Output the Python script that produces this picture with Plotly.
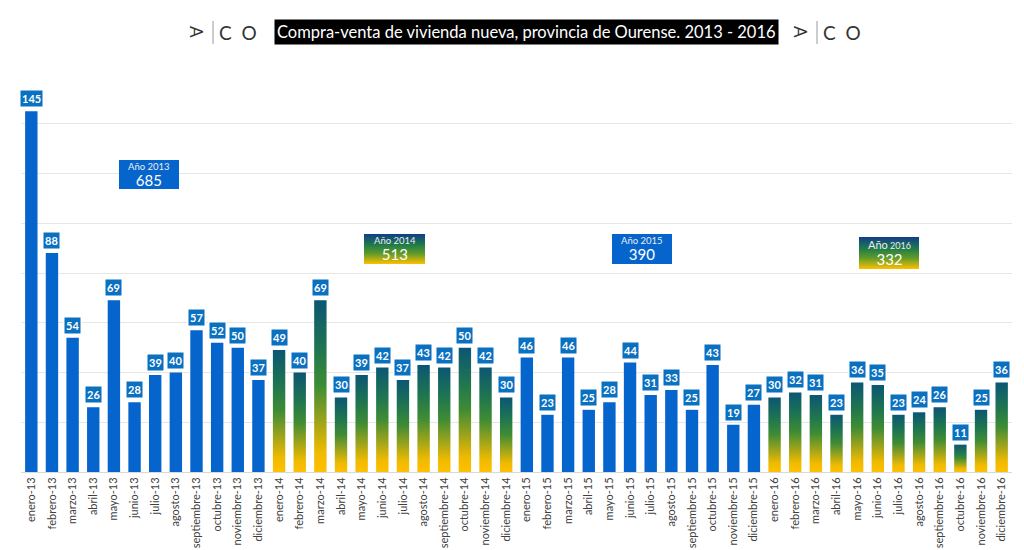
import plotly.graph_objects as go

# ---------------- data ----------------
months = ["enero", "febrero", "marzo", "abril", "mayo", "junio", "julio",
          "agosto", "septiembre", "octubre", "noviembre", "diciembre"]
year_suffix = ["13", "14", "15", "16"]
tick_labels = [f"{m}-{y}" for y in year_suffix for m in months]

v2013 = [145, 88, 54, 26, 69, 28, 39, 40, 57, 52, 50, 37]
v2014 = [49, 40, 69, 30, 39, 42, 37, 43, 42, 50, 42, 30]
v2015 = [46, 23, 46, 25, 28, 44, 31, 33, 25, 43, 19, 27]
v2016 = [30, 32, 31, 23, 36, 35, 23, 24, 26, 11, 25, 36]

year_names = ["2013", "2014", "2015", "2016"]
year_totals = [685, 513, 390, 332]

title_text = "Compra-venta de vivienda nueva, provincia de Ourense. 2013 - 2016"

# ---------------- styling ----------------
W, H = 1024, 550
ML, MR, MT, MB = 21, 12, 74, 78
PW, PH = W - ML - MR, H - MT - MB
BLUE = "#0565CC"
LABEL_BLUE = "#0A70C0"
BAR_W = 0.6
GRAD = [[0.0, "#FFC000"], [0.12, "#EEBA00"], [0.3, "#9AA31C"],
        [0.5, "#3F8C34"], [0.72, "#1E7550"], [1.0, "#0B5674"]]
BOX_GRAD = [[0.0, "#FFC000"], [0.35, "#5E9A2A"], [0.65, "#1D7A4A"], [1.0, "#123C8C"]]


def px_x(p):
    return (p - ML) / PW


def px_y(p):
    return (H - MB - p) / PH


fig = go.Figure()

series = [v2013, v2014, v2015, v2016]
all_vals = [v for s in series for v in s]
xs = list(range(len(all_vals)))

# solid blue bars (2013, 2015)
for yi in (0, 2):
    idx = [yi * 12 + k for k in range(12)]
    fig.add_trace(go.Bar(
        x=idx, y=series[yi], width=BAR_W, marker=dict(color=BLUE, line=dict(width=0)),
        hoverinfo="skip", showlegend=False))

# gradient bars (2014, 2016)
for yi in (1, 3):
    for k, v in enumerate(series[yi]):
        i = yi * 12 + k
        fig.add_trace(go.Scatter(
            x=[i - BAR_W / 2, i + BAR_W / 2, i + BAR_W / 2, i - BAR_W / 2, i - BAR_W / 2],
            y=[0, 0, v, v, 0], mode="lines", fill="toself",
            line=dict(width=0, color="rgba(0,0,0,0)"),
            fillgradient=dict(type="vertical", colorscale=GRAD, start=0, stop=v),
            hoverinfo="skip", showlegend=False))

# data labels
for i, v in zip(xs, all_vals):
    fig.add_annotation(
        x=i, y=v, xref="x", yref="y", text=f"<b>{v}</b>", showarrow=False,
        xanchor="center", yanchor="bottom", yshift=3,
        font=dict(family="Lato", size=11, color="white"),
        bgcolor=LABEL_BLUE, bordercolor="white", borderwidth=1.5, borderpad=1.5)

# year total boxes  (page pixel positions: x0, x1, y0, y1)
box_pos = [(119, 179, 160, 189), (364, 425, 234, 264), (612, 672, 234, 264), (859, 919, 237, 269)]
for n, (name, tot, (x0, x1, y0, y1)) in enumerate(zip(year_names, year_totals, box_pos)):
    cx, cy = (x0 + x1) / 2, (y0 + y1) / 2
    if n in (1, 3):
        fig.add_trace(go.Scatter(
            x=[px_x(x0), px_x(x1), px_x(x1), px_x(x0), px_x(x0)],
            y=[px_y(y1), px_y(y1), px_y(y0), px_y(y0), px_y(y1)],
            xaxis="x2", yaxis="y2", mode="lines", fill="toself",
            line=dict(width=0, color="rgba(0,0,0,0)"),
            fillgradient=dict(type="vertical", colorscale=BOX_GRAD,
                              start=px_y(y1), stop=px_y(y0)),
            hoverinfo="skip", showlegend=False))
    else:
        fig.add_shape(type="rect", xref="paper", yref="paper",
                      x0=px_x(x0), x1=px_x(x1), y0=px_y(y1), y1=px_y(y0),
                      fillcolor=BLUE, line=dict(width=0), layer="above")
    if n == 3:
        head = (f"<span style='font-size:11px;color:#EDEDED'>Año</span>"
                f"<span style='font-size:9px;color:#EDEDED'> {name}</span>")
    else:
        head = f"<span style='font-size:9.5px;color:#EDEDED'>Año {name}</span>"
    fig.add_annotation(
        x=px_x(cx), y=px_y(cy), xref="paper", yref="paper",
        xanchor="center", yanchor="middle", align="center",
        text=f"{head}<br><span style='font-size:15px'>{tot}</span>", showarrow=False,
        font=dict(family="Lato", size=12.5, color="white"))

# title
fig.add_annotation(
    x=px_x(526), y=px_y(32), xref="paper", yref="paper", text=title_text,
    xanchor="center", yanchor="middle",
    showarrow=False, bgcolor="black", borderpad=2,
    font=dict(family="Lato", size=16.5, color="white"))

# logos
for lx in (197, 801):
    fig.add_annotation(x=px_x(lx), y=px_y(32), xref="paper", yref="paper", text="A",
                       xanchor="center", yanchor="middle",
                       textangle=90, showarrow=False,
                       font=dict(family="Lato", size=17, color="#333333"))
    fig.add_shape(type="line", xref="paper", yref="paper",
                  x0=px_x(lx + 16), x1=px_x(lx + 16), y0=px_y(21), y1=px_y(44),
                  line=dict(color="#9a9a9a", width=1))
    fig.add_annotation(x=px_x(lx + 41), y=px_y(32), xref="paper", yref="paper", text="C  O",
                       xanchor="center", yanchor="middle",
                       showarrow=False,
                       font=dict(family="Lato", size=19, color="#333333"))

fig.update_layout(
    width=W, height=H,
    margin=dict(l=ML, r=MR, t=MT, b=MB, autoexpand=False),
    paper_bgcolor="white", plot_bgcolor="white",
    barmode="overlay", showlegend=False,
    xaxis=dict(tickmode="array", tickvals=xs, ticktext=tick_labels, tickangle=-90,
               range=[-0.5, len(xs) - 0.5], showgrid=False, zeroline=False,
               showline=True, linecolor="#d9d9d9", linewidth=1, ticks="",
               automargin=False,
               tickfont=dict(family="Lato", size=11, color="#404040")),
    yaxis=dict(range=[0, 160], dtick=20, showgrid=True, gridcolor="#e6e6e6",
               gridwidth=1, zeroline=False, showticklabels=False, ticks="",
               automargin=False),
    xaxis2=dict(range=[0, 1], overlaying="x", visible=False, fixedrange=True),
    yaxis2=dict(range=[0, 1], overlaying="y", visible=False, fixedrange=True),
)

fig.write_html("out.html", config={"displayModeBar": False},
               post_script="document.body.style.margin='0';document.body.style.overflow='hidden';")
